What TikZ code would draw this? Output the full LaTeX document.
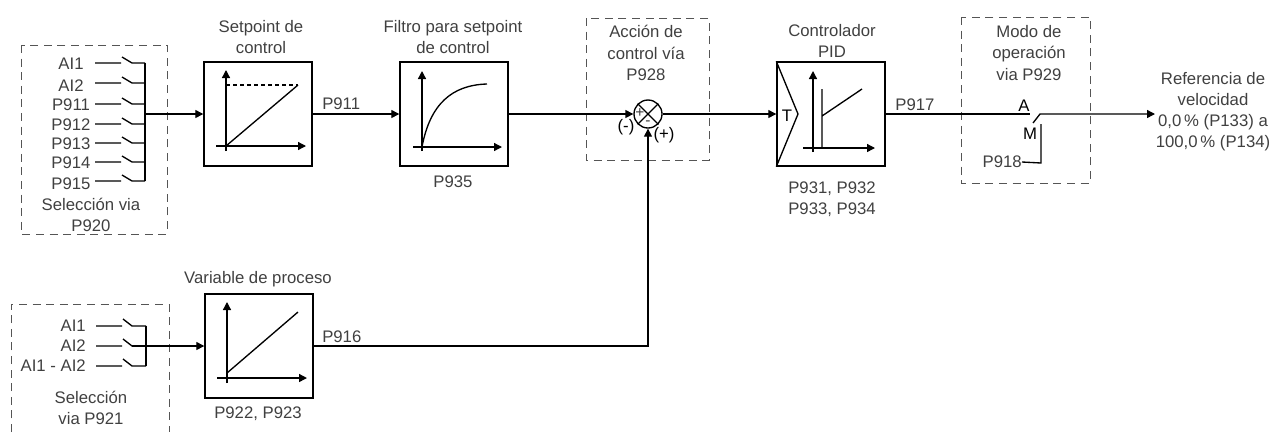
\documentclass[tikz,border=0pt]{standalone}
\usepackage{fontspec}
\setmainfont{Liberation Sans}
\usetikzlibrary{arrows.meta,calc,positioning}
\definecolor{txtgray}{HTML}{404040}
\definecolor{dashgray}{HTML}{555555}
\tikzset{
  sigline/.style={line width=0.95pt,black},
  block/.style={draw,line width=1pt,minimum width=27mm,minimum height=26mm,inner sep=0pt},
  selbox/.style={draw=dashgray,line width=0.7pt,dash pattern=on 2mm off 1.4mm},
  lbl/.style={text=txtgray,font=\fontsize{11.9}{15}\selectfont,align=center,inner sep=0pt},
}
\begin{document}
\begin{tikzpicture}[>={Stealth[length=2mm,width=2mm,inset=0pt]},x=0.25mm,y=-0.25mm]
  \useasboundingbox (0,0) rectangle (1271,432);

  \draw[selbox] (21,45) rectangle (167,234);
  \draw[selbox] (11,432)--(11,304)--(169,304)--(169,432);
  \draw[selbox] (586,18) rectangle (709,160);
  \draw[selbox] (961,17) rectangle (1090,183);

  \node[block] (setp) at (258,114) {};
  \node[block] (filt) at (454,114) {};
  \node[block] (pid) at (831,114) {};
  \node[block] (var) at (259,346) {};
  \node[draw,sigline,circle,minimum size=7mm,inner sep=0pt] (sum) at (648,114) {};
  \draw[sigline] (sum.45)--(sum.225) (sum.135)--(sum.315);

  \foreach \name/\txt/\y/\ly in {a/AI1/63/64,b/AI2/83/86,c/P911/104/105,d/P912/124/125,e/P913/143/144,f/P914/162/163,g/P915/181/184}{
    \node[lbl] (l\name) at (71,\ly) {\txt};
    \coordinate (s\name) at (95,\y);
    \draw[sigline] (s\name)--+(26,0) ++(27,-6)--+(10,6)--+(23,6);
  }
  \coordinate (bustop) at (145,63);
  \coordinate (busbot) at (145,181);
  \coordinate (busout) at (145,114);
  \draw[sigline] (bustop)--(busbot);
  \draw[sigline,->] (busout)--(setp.west);
  \node[lbl] (sel1) at (91,215) {Selección via\\P920};

  \foreach \name/\txt/\y in {h/AI1/326,i/AI2/346,j/AI1 - AI2/366}{
    \node[lbl,anchor=east] (l\name) at (86,\y) {\txt};
    \coordinate (s\name) at (96,\y);
    \draw[sigline] (s\name)--+(26,0) ++(27,-7)--+(9,7)--+(23,7);
  }
  \coordinate (bus2top) at (146,326);
  \coordinate (bus2bot) at (146,366);
  \coordinate (bus2out) at (132,346);
  \draw[sigline] (bus2top)--(bus2bot);
  \draw[sigline,->] (bus2out)--(var.west);
  \node[lbl] (sel2) at (91,408) {Selección\\via P921};

  \draw[sigline,->] (setp.east)--(filt.west);
  \node[lbl,anchor=south west] (p911) at (322,110) {P911};
  \draw[sigline,->] (filt.east)--(sum.west);
  \draw[sigline,->] (sum.east)--(pid.west);
  \draw[sigline,->] (var.east) -| (sum.south);
  \node[lbl,anchor=south west] (p916) at (322,343) {P916};

  % plots inside the blocks
  \draw[sigline,->] (226,151)--(226,70);
  \draw[sigline,->] (216,146)--(306,146);
  \draw[sigline] (226,146)--(298,85);
  \draw[sigline,densely dashed] (226,85)--(298,85);

  \draw[sigline,->] (422,151)--(422,71);
  \draw[sigline,->] (413,147)--(502,147);
  \draw[sigline] (422,147) .. controls (430,104) and (452,85) .. (487,84);

  \draw[sigline,->] (227,383)--(227,302);
  \draw[sigline,->] (217,378)--(307,378);
  \draw[sigline] (227,373)--(298,312);

  \draw[sigline] (pid.north west)--(798,114)--(pid.south west);
  \draw[sigline,->] (813,152)--(813,71);
  \draw[sigline,->] (803,148)--(875,148);
  \draw[sigline] (822,148)--(822,89) (822,116)--(862,89);
  \node[lbl,text=black] (tlab) at (787,116) {T};

  \node[lbl,font=\fontsize{11}{12}\selectfont] (plus) at (640,113) {+};
  \node[lbl,font=\fontsize{11}{12}\selectfont] (minus) at (648,123) {-};
  \node[lbl,text=black] (neg) at (626,127) {(-)};
  \node[lbl,text=black] (pos) at (664,135) {(+)};

  % titles
  \node[lbl] (t1) at (261,37) {Setpoint de\\control};
  \node[lbl] (t2) at (453,37) {Filtro para setpoint\\de control};
  \node[lbl] (t3) at (646,53) {Acción de\\control vía\\P928};
  \node[lbl] (t4) at (832,41) {Controlador\\PID};
  \node[lbl] (t5) at (1029,53) {Modo de\\operación\\via P929};
  \node[lbl] (t6) at (258,279) {Variable de proceso};
  \node[lbl] (t7) at (453,182) {P935};
  \node[lbl] (t8) at (832,199) {P931, P932\\P933, P934};
  \node[lbl] (t9) at (258,414) {P922, P923};

  % output switch
  \draw[sigline] (pid.east)--(1030,114);
  \node[lbl] (p917) at (915,105) {P917};
  \node[lbl,text=black] (autl) at (1024,106) {A};
  \node[lbl,text=black] (manl) at (1030,134) {M};
  \node[lbl,anchor=east] (p918) at (1022,162) {P918};
  \node[lbl] (outl) at (1213,112) {Referencia de\\velocidad\\0,0\,\% (P133) a\\100,0\,\% (P134)};
  \coordinate (bl) at (1033,123);
  \coordinate (bk) at (1040,114);
  \coordinate (mtop) at (1041,124);
  \draw[sigline,->] (bl)--(bk)--(1155,114);
  \draw[sigline] (mtop)--(1041,163)--(p918.east);
\end{tikzpicture}
\end{document}
